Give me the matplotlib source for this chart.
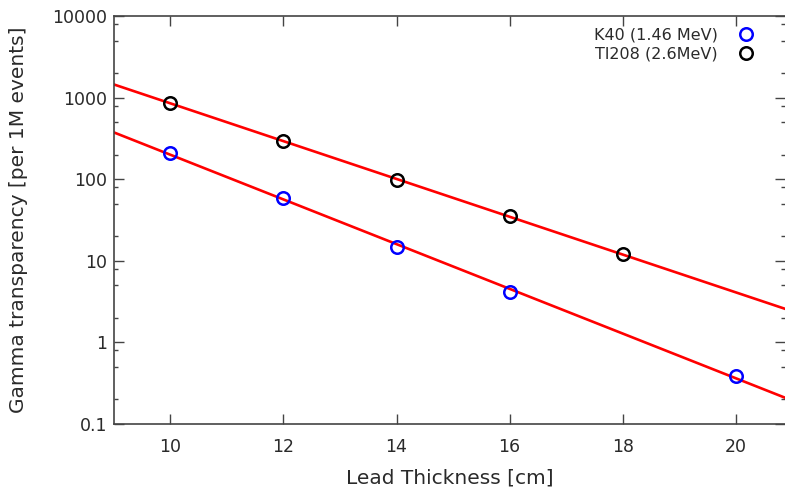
import numpy as np
import matplotlib
matplotlib.use('Agg')
from matplotlib import pyplot as plt
from matplotlib.ticker import LogLocator, FixedLocator, NullFormatter

# data
k40_x = [10, 12, 14, 16, 20]
k40_y = [209, 59, 14.7, 4.2, 0.39]
tl_x = [10, 12, 14, 16, 18]
tl_y = [860, 293, 98, 35, 12]

labels = ['K40 (1.46 MeV)', 'Tl208 (2.6MeV)']
x_ticks = [10, 12, 14, 16, 18, 20]
y_ticks = [0.1, 1, 10, 100, 1000, 10000]
y_tick_labels = ['0.1', '1', '10', '100', '1000', '10000']

x_min, x_max = 9, 20.87
txt = '#2a2a2a'

plt.rcParams['font.family'] = 'DejaVu Sans'

fig = plt.figure(figsize=(7.85, 4.93), dpi=100)
ax = fig.add_axes([0.145, 0.14, 0.855, 0.8275])

# exponential fits drawn across the full x range
xx = np.linspace(x_min, x_max, 200)
for xs, ys in [(k40_x, k40_y), (tl_x, tl_y)]:
    p = np.polyfit(xs, np.log10(ys), 1)
    ax.plot(xx, 10 ** np.polyval(p, xx), color='#ff0000', lw=1.9, zorder=2)

ax.plot(k40_x, k40_y, 'o', mfc='none', mec='#0000ff', mew=1.8, ms=9,
        ls='none', label=labels[0], zorder=3)
ax.plot(tl_x, tl_y, 'o', mfc='none', mec='#000000', mew=1.8, ms=9,
        ls='none', label=labels[1], zorder=3)

ax.set_yscale('log')
ax.set_xlim(x_min, x_max)
ax.set_ylim(0.1, 10000)

ax.xaxis.set_major_locator(FixedLocator(x_ticks))
ax.xaxis.set_minor_locator(FixedLocator([]))
ax.yaxis.set_major_locator(FixedLocator(y_ticks))
ax.set_yticklabels(y_tick_labels)
ax.yaxis.set_minor_locator(LogLocator(base=10, subs=(2, 5, 8)))
ax.yaxis.set_minor_formatter(NullFormatter())

ax.tick_params(which='both', direction='in', top=True, right=True,
               colors='#444444', labelcolor=txt, labelsize=12.5, width=1)
ax.tick_params(which='major', length=7)
ax.tick_params(axis='x', which='major', pad=10)
ax.tick_params(axis='y', which='major', pad=5)
ax.tick_params(which='minor', length=3)

for s in ['left', 'bottom', 'top']:
    ax.spines[s].set_color('#444444')
    ax.spines[s].set_linewidth(1.2)
ax.spines['right'].set_visible(False)

ax.set_xlabel('Lead Thickness [cm]', fontsize=14.5, color=txt, labelpad=9)
ax.set_ylabel('Gamma transparency [per 1M events]', fontsize=14.5, color=txt, labelpad=17)

leg = ax.legend(loc='upper right', frameon=False, markerfirst=False,
                fontsize=11.5, handletextpad=1.0, handlelength=1.5,
                labelspacing=0.3, borderaxespad=0.3,
                bbox_to_anchor=(0.976, 1.0))
for t in leg.get_texts():
    t.set_color(txt)

fig.savefig('out.png', dpi=100)
